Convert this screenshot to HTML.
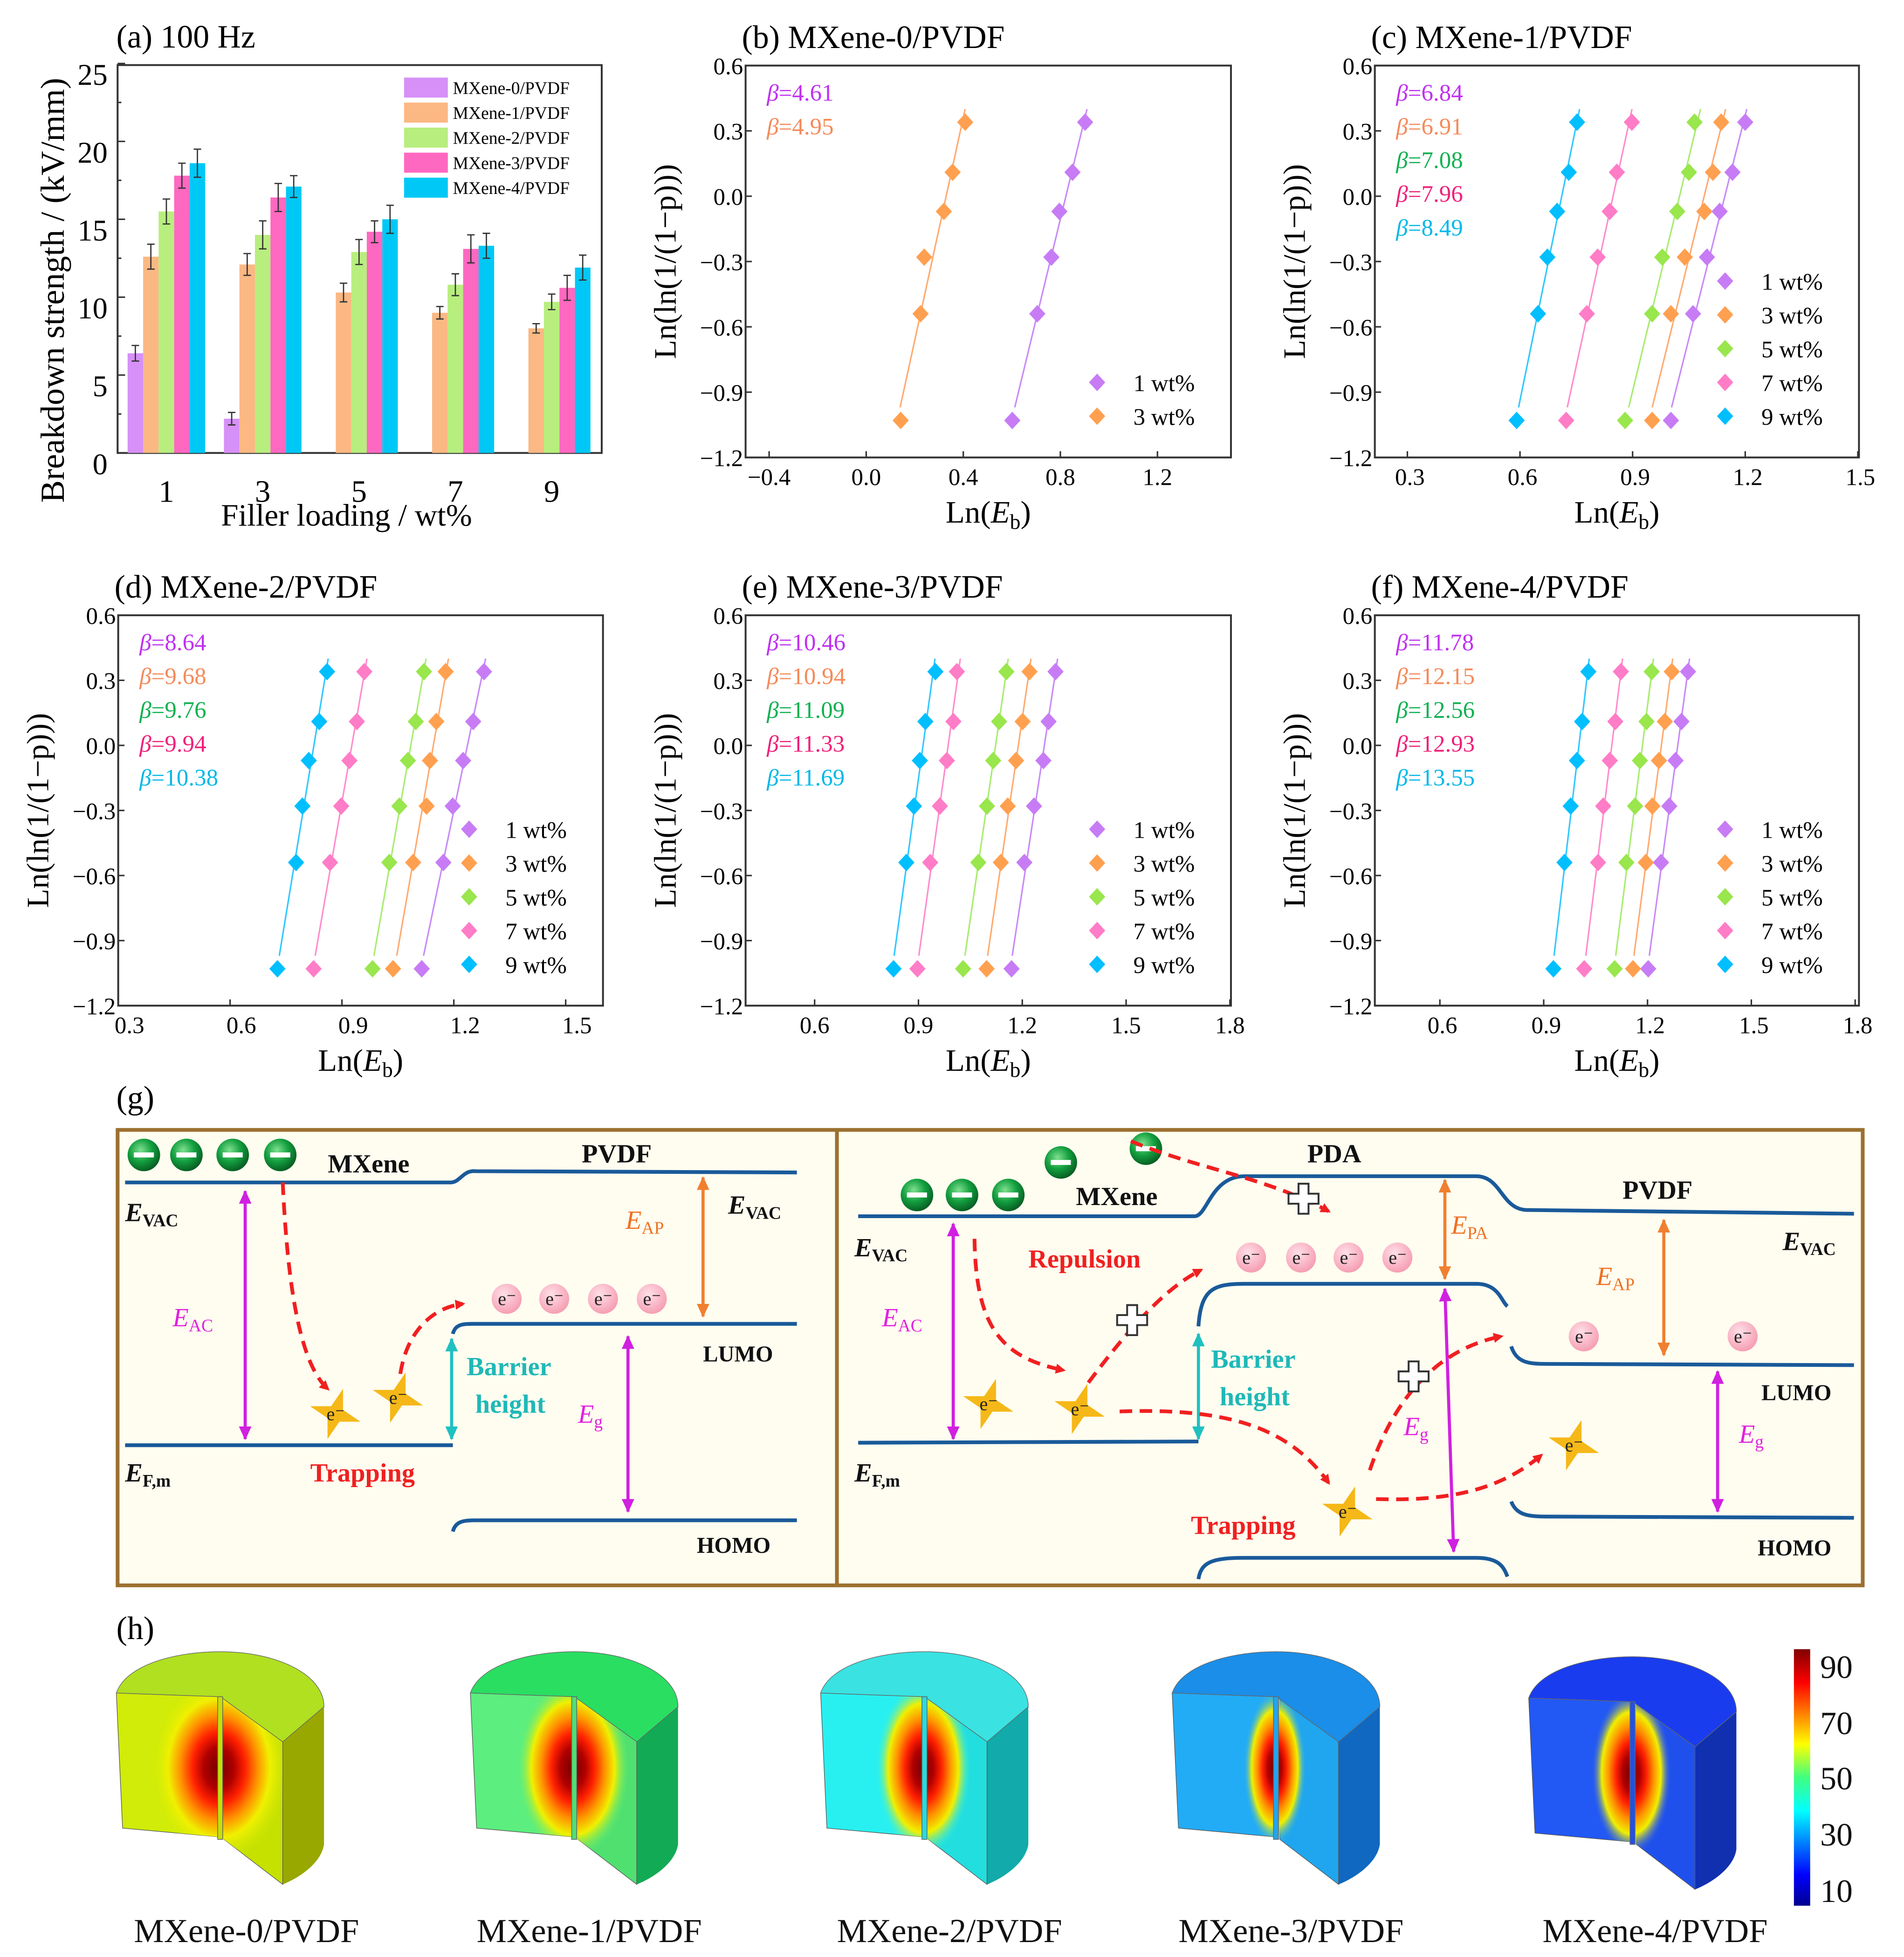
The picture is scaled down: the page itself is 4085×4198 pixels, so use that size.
<!DOCTYPE html>
<html><head><meta charset="utf-8"><style>
html,body{margin:0;padding:0;background:#fff;}
svg{display:block;font-family:"Liberation Serif",serif;}
</style></head><body>
<svg id="fig" xmlns="http://www.w3.org/2000/svg" width="4085" height="4198" viewBox="0 0 1522 1564" preserveAspectRatio="none">
<defs>
<radialGradient id="ball" cx="0.4" cy="0.35" r="0.7"><stop offset="0" stop-color="#7fe08f"/><stop offset="0.5" stop-color="#14a040"/><stop offset="1" stop-color="#05561f"/></radialGradient>
<radialGradient id="pinkball" cx="0.4" cy="0.35" r="0.7"><stop offset="0" stop-color="#ffe0e8"/><stop offset="1" stop-color="#f59ab0"/></radialGradient>
<linearGradient id="jet" x1="0" y1="1" x2="0" y2="0"><stop offset="0" stop-color="#00008f"/><stop offset="0.12" stop-color="#0000ff"/><stop offset="0.37" stop-color="#00ffff"/><stop offset="0.5" stop-color="#40ff80"/><stop offset="0.63" stop-color="#ffff00"/><stop offset="0.87" stop-color="#ff0000"/><stop offset="1" stop-color="#800000"/></linearGradient>
<marker id="arrR" markerWidth="8" markerHeight="8" refX="6" refY="4" orient="auto" markerUnits="userSpaceOnUse"><path d="M0,0 L8,4 L0,8 Z" fill="#f02020"/></marker>
<marker id="arrM" markerWidth="12" markerHeight="12" refX="10" refY="6" orient="auto-start-reverse" markerUnits="userSpaceOnUse"><path d="M0,1 L11,6 L0,11 Z" fill="#d020e0"/></marker>
<marker id="arrO" markerWidth="12" markerHeight="12" refX="10" refY="6" orient="auto-start-reverse" markerUnits="userSpaceOnUse"><path d="M0,1 L11,6 L0,11 Z" fill="#f08030"/></marker>
<marker id="arrC" markerWidth="12" markerHeight="12" refX="10" refY="6" orient="auto-start-reverse" markerUnits="userSpaceOnUse"><path d="M0,1 L11,6 L0,11 Z" fill="#20c0c0"/></marker>
</defs>
<g id="charts"></g>

<g font-weight="bold">
<text x="93" y="886" font-size="26" font-weight="normal">(g)</text>
<rect x="94" y="903" width="1395" height="364" fill="#fffdf0" stroke="#9c7030" stroke-width="3"/>
<line x1="669" y1="903" x2="669" y2="1267" stroke="#9c7030" stroke-width="3"/>
<g fill="none" stroke="#1a5a9a" stroke-width="3">
<path d="M100,945 L360,945 C368,945 370,935 380,936 L637,937"/>
<path d="M362,1066 C364,1058 370,1058 380,1058 L637,1058"/>
<path d="M100,1155 L362,1155"/>
<path d="M362,1224 C364,1216 370,1215 380,1215 L637,1215"/>
<path d="M686,972 L955,972 C965,972 968,940 995,940 L1180,940 C1200,940 1200,966 1220,967 L1482,970"/>
<path d="M958,1060 C960,1030 970,1026 995,1026 L1180,1026 C1198,1026 1200,1040 1205,1044"/>
<path d="M1208,1076 C1212,1088 1220,1090 1235,1090 L1482,1091"/>
<path d="M686,1153 L958,1152"/>
<path d="M958,1262 C960,1248 970,1245 995,1245 L1180,1245 C1198,1245 1202,1252 1205,1260"/>
<path d="M1208,1200 C1212,1210 1220,1212 1235,1212 L1482,1213"/>
</g>
<g>
<circle cx="115" cy="923" r="13" fill="url(#ball)"/><circle cx="149" cy="923" r="13" fill="url(#ball)"/><circle cx="186" cy="923" r="13" fill="url(#ball)"/><circle cx="224" cy="923" r="13" fill="url(#ball)"/>
<circle cx="733" cy="955" r="13" fill="url(#ball)"/><circle cx="769" cy="955" r="13" fill="url(#ball)"/><circle cx="806" cy="955" r="13" fill="url(#ball)"/><circle cx="848" cy="929" r="13" fill="url(#ball)"/><circle cx="916" cy="918" r="13" fill="url(#ball)"/>
<g fill="#fff"><rect x="107" y="921" width="16" height="4"/><rect x="141" y="921" width="16" height="4"/><rect x="178" y="921" width="16" height="4"/><rect x="216" y="921" width="16" height="4"/><rect x="725" y="953" width="16" height="4"/><rect x="761" y="953" width="16" height="4"/><rect x="798" y="953" width="16" height="4"/><rect x="840" y="927" width="16" height="4"/><rect x="908" y="916" width="16" height="4"/></g>
</g>
<g font-size="21" fill="#111">
<text x="262" y="937">MXene</text><text x="465" y="929">PVDF</text>
<text x="860" y="963">MXene</text><text x="1045" y="929">PDA</text><text x="1297" y="958">PVDF</text>
<text x="562" y="1088" font-size="18">LUMO</text><text x="557" y="1241" font-size="18">HOMO</text>
<text x="1408" y="1119" font-size="18">LUMO</text><text x="1405" y="1243" font-size="18">HOMO</text>
<text x="100" y="976" font-style="italic">E<tspan font-size="14" font-style="normal" dy="4">VAC</tspan></text>
<text x="582" y="970" font-style="italic">E<tspan font-size="14" font-style="normal" dy="4">VAC</tspan></text>
<text x="683" y="1004" font-style="italic">E<tspan font-size="14" font-style="normal" dy="4">VAC</tspan></text>
<text x="1425" y="999" font-style="italic">E<tspan font-size="14" font-style="normal" dy="4">VAC</tspan></text>
<text x="100" y="1184" font-style="italic">E<tspan font-size="14" font-style="normal" dy="4">F,m</tspan></text>
<text x="683" y="1184" font-style="italic">E<tspan font-size="14" font-style="normal" dy="4">F,m</tspan></text>
</g>
<g font-size="21" fill="#e020e0" font-weight="normal">
<text x="138" y="1060" font-style="italic">E<tspan font-size="14" font-style="normal" dy="4">AC</tspan></text>
<text x="705" y="1060" font-style="italic">E<tspan font-size="14" font-style="normal" dy="4">AC</tspan></text>
<text x="462" y="1137" font-style="italic">E<tspan font-size="14" font-style="normal" dy="4">g</tspan></text>
<text x="1122" y="1147" font-style="italic">E<tspan font-size="14" font-style="normal" dy="4">g</tspan></text>
<text x="1390" y="1153" font-style="italic">E<tspan font-size="14" font-style="normal" dy="4">g</tspan></text>
</g>
<g font-size="21" fill="#f07020" font-weight="normal">
<text x="500" y="982" font-style="italic">E<tspan font-size="14" font-style="normal" dy="4">AP</tspan></text>
<text x="1160" y="986" font-style="italic">E<tspan font-size="14" font-style="normal" dy="4">PA</tspan></text>
<text x="1276" y="1027" font-style="italic">E<tspan font-size="14" font-style="normal" dy="4">AP</tspan></text>
</g>
<g fill="#20b8b8" font-size="21"><text x="373" y="1099">Barrier</text><text x="380" y="1129">height</text><text x="968" y="1093">Barrier</text><text x="975" y="1123">height</text></g>
<g fill="#f02020" font-size="21"><text x="248" y="1184">Trapping</text><text x="952" y="1226">Trapping</text><text x="822" y="1013">Repulsion</text></g>
<g stroke-width="2.5" fill="none">
<line x1="196" y1="952" x2="196" y2="1150" stroke="#d020e0" marker-start="url(#arrM)" marker-end="url(#arrM)"/>
<line x1="502" y1="1068" x2="502" y2="1208" stroke="#d020e0" marker-start="url(#arrM)" marker-end="url(#arrM)"/>
<line x1="762" y1="978" x2="762" y2="1150" stroke="#d020e0" marker-start="url(#arrM)" marker-end="url(#arrM)"/>
<line x1="1155" y1="1030" x2="1162" y2="1240" stroke="#d020e0" marker-start="url(#arrM)" marker-end="url(#arrM)"/>
<line x1="1373" y1="1096" x2="1373" y2="1208" stroke="#d020e0" marker-start="url(#arrM)" marker-end="url(#arrM)"/>
<line x1="562" y1="941" x2="562" y2="1052" stroke="#f08030" marker-start="url(#arrO)" marker-end="url(#arrO)"/>
<line x1="1155" y1="943" x2="1155" y2="1022" stroke="#f08030" marker-start="url(#arrO)" marker-end="url(#arrO)"/>
<line x1="1330" y1="975" x2="1330" y2="1083" stroke="#f08030" marker-start="url(#arrO)" marker-end="url(#arrO)"/>
<line x1="361" y1="1070" x2="361" y2="1150" stroke="#20c0c0" marker-start="url(#arrC)" marker-end="url(#arrC)"/>
<line x1="958" y1="1066" x2="958" y2="1150" stroke="#20c0c0" marker-start="url(#arrC)" marker-end="url(#arrC)"/>
</g>
<g stroke="#f02020" stroke-width="3" stroke-dasharray="10,6" fill="none" marker-end="url(#arrR)">
<path d="M226,945 C230,1030 240,1090 262,1110"/>
<path d="M320,1098 C325,1065 345,1045 370,1042"/>
<path d="M904,912 C960,935 1010,940 1062,968"/>
<path d="M779,990 C780,1060 800,1085 850,1095"/>
<path d="M870,1105 C900,1065 930,1030 960,1015"/>
<path d="M895,1128 C980,1125 1030,1140 1062,1185"/>
<path d="M1095,1175 C1110,1130 1140,1080 1200,1068"/>
<path d="M1100,1198 C1160,1200 1200,1190 1232,1163"/>
</g>
<g id="plusses" fill="#fff" stroke="#333" stroke-width="1.5"></g>
<g id="pinke" font-size="15" font-weight="normal" fill="#222"></g>
<g id="stars" font-size="15" font-weight="normal" fill="#222"></g>
</g>

<g>
<text x="93" y="1310" font-size="26">(h)</text>
<g id="cyls"></g>
<rect x="1434" y="1318" width="13" height="205" fill="url(#jet)"/>
<g font-size="26" fill="#111">
<text x="1455" y="1341">90</text><text x="1455" y="1386">70</text><text x="1455" y="1430">50</text><text x="1455" y="1475">30</text><text x="1455" y="1520">10</text>
</g>
<g font-size="27" fill="#111" text-anchor="middle">
<text x="197" y="1552">MXene-0/PVDF</text><text x="471" y="1552">MXene-1/PVDF</text><text x="759" y="1552">MXene-2/PVDF</text><text x="1032" y="1552">MXene-3/PVDF</text><text x="1323" y="1552">MXene-4/PVDF</text>
</g>
</g>
</svg>
<script>
// ---------- Panel (a) data ----------
const barCategories = ["1","3","5","7","9"];
const barSeries = ["MXene-0/PVDF","MXene-1/PVDF","MXene-2/PVDF","MXene-3/PVDF","MXene-4/PVDF"];
const bar0 = [6.4, 2.2, null, null, null];
const bar1 = [12.6, 12.1, 10.3, 9.0, 8.0];
const bar2 = [15.5, 14.0, 12.9, 10.8, 9.7];
const bar3 = [17.8, 16.4, 14.2, 13.1, 10.6];
const bar4 = [18.6, 17.1, 15.0, 13.3, 11.9];
const err0 = [0.5, 0.4, 0, 0, 0];
const err1 = [0.8, 0.7, 0.6, 0.4, 0.3];
const err2 = [0.8, 0.9, 0.8, 0.7, 0.5];
const err3 = [0.8, 0.9, 0.7, 0.9, 0.8];
const err4 = [0.9, 0.7, 0.9, 0.8, 0.8];
const barYTicks = [0,5,10,15,20,25];

// ---------- Weibull data ----------
const weibullY = [-1.03,-0.54,-0.28,-0.07,0.11,0.34];
const wtLabels = ["1 wt%","3 wt%","5 wt%","7 wt%","9 wt%"];
const b_1wt = [0.602,0.705,0.763,0.796,0.850,0.902];
const b_3wt = [0.142,0.224,0.239,0.320,0.356,0.408];
const c_1wt = [1.002,1.061,1.098,1.132,1.166,1.200];
const c_3wt = [0.952,1.002,1.039,1.091,1.114,1.136];
const c_5wt = [0.880,0.952,0.979,1.019,1.050,1.065];
const c_7wt = [0.723,0.778,0.807,0.839,0.858,0.898];
const c_9wt = [0.591,0.648,0.673,0.699,0.730,0.752];
const d_1wt = [1.114,1.172,1.197,1.225,1.252,1.281];
const d_3wt = [1.037,1.091,1.127,1.136,1.153,1.178];
const d_5wt = [0.982,1.027,1.054,1.077,1.098,1.120];
const d_7wt = [0.824,0.868,0.898,0.920,0.940,0.960];
const d_9wt = [0.727,0.777,0.794,0.811,0.839,0.860];
const e_1wt = [1.169,1.206,1.234,1.261,1.276,1.296];
const e_3wt = [1.097,1.138,1.158,1.182,1.201,1.221];
const e_5wt = [1.029,1.073,1.098,1.116,1.133,1.154];
const e_7wt = [0.897,0.934,0.962,0.982,1.001,1.011];
const e_9wt = [0.828,0.865,0.887,0.904,0.920,0.949];
const f_1wt = [1.202,1.239,1.263,1.281,1.298,1.317];
const f_3wt = [1.158,1.195,1.214,1.233,1.250,1.270];
const f_5wt = [1.105,1.139,1.164,1.178,1.197,1.212];
const f_7wt = [1.017,1.057,1.072,1.091,1.107,1.123];
const f_9wt = [0.928,0.960,0.978,0.996,1.011,1.029];
const betaB = ["4.61","4.95"];
const betaC = ["6.84","6.91","7.08","7.96","8.49"];
const betaD = ["8.64","9.68","9.76","9.94","10.38"];
const betaE = ["10.46","10.94","11.09","11.33","11.69"];
const betaF = ["11.78","12.15","12.56","12.93","13.55"];
const weibullYTicks = [-1.2,-0.9,-0.6,-0.3,0.0,0.3,0.6];

const NS = "http://www.w3.org/2000/svg";
const root = document.getElementById('charts');
function mk(tag, attrs, parent){ const e=document.createElementNS(NS,tag); for(const k in attrs) e.setAttribute(k,attrs[k]); (parent||root).appendChild(e); return e; }
function txt(s, attrs, parent){ const e=mk('text',attrs,parent); e.textContent=s; return e; }
function tspan(parent, s, attrs){ const t=mk('tspan',attrs||{},parent); t.textContent=s; return t; }

const barFill = ["#d690f7","#fbb883","#b8ee7e","#ff68c0","#00c8f6"];
const markCol = ["#c77cf5","#ffa050","#99e64d","#ff7cc7","#00bfff"];
const lineCol = ["#c98af8","#ffaa70","#a8ec70","#ff8ccd","#30c8ff"];
const betaCol = ["#c030f0","#f58a5a","#10b050","#f0207a","#00b8e8"];

// ---------- Panel (a) ----------
(function(){
  const g = mk('g',{});
  
  
  const L=94,R=481,T=52,B=362;
  const y = v => B - v*12.45;
  const x = i => 133 + 77*i;
  const t = txt('(a) 100 Hz',{x:93,y:38,'font-size':26},g);
  
  
  const frame = mk('rect',{x:L,y:T,width:R-L,height:B-T,fill:'none',stroke:'#333','stroke-width':1.5},g);
  
  
  barYTicks.forEach(v=>{
    mk('line',{x1:L,x2:L+6,y1:y(v),y2:y(v),stroke:'#333','stroke-width':1.2},g);
    if(v!==25) mk('line',{x1:L,x2:L+3,y1:y(v+2.5),y2:y(v+2.5),stroke:'#333','stroke-width':1.2},g);
    const lb = txt(String(v),{x:L-8,y:y(v)+17,'font-size':24,'text-anchor':'end'},g);
    
    
  });
  const vals=[bar0,bar1,bar2,bar3,bar4], errs=[err0,err1,err2,err3,err4];
  const bw=12.4;
  barCategories.forEach((c,i)=>{
    const lb = txt(c,{x:x(i),y:401,'font-size':25,'text-anchor':'middle'},g);
    
    
    for(let s=0;s!==5;s++){
      const v=vals[s][i]; if(v==null) continue;
      const bx = x(i)-2.5*bw + s*bw;
      const r = mk('rect',{x:bx,y:y(v),width:bw,height:B-y(v),fill:barFill[s]},g);
      
      
      const e=errs[s][i], cx=bx+bw/2;
      mk('path',{d:`M${cx},${y(v+e)}V${y(v-e)}M${cx-3},${y(v+e)}h6M${cx-3},${y(v-e)}h6`,stroke:'#333','stroke-width':1,fill:'none'},g);
    }
  });
  const yt = txt('Breakdown strength / (kV/mm)',{x:0,y:0,'font-size':27,'text-anchor':'middle',transform:'translate(51,232) rotate(-90)'},g);
  
  
  const xt = txt('Filler loading / wt%',{x:277,y:420,'font-size':25,'text-anchor':'middle'},g);
  
  
  barSeries.forEach((s,k)=>{
    const ly=70+20*k;
    const sw = mk('rect',{x:323,y:ly-8,width:35,height:16,fill:barFill[k]},g);
    
    
    const lt = txt(s,{x:362,y:ly+5,'font-size':14},g);
    
    
  });
})();

// ---------- Weibull panels ----------
function weibull(cfg){
  const g = mk('g',{});
  
  
  const {L,R,T,B,xmin,xmax} = cfg;
  const x = v => L + (v-xmin)/(xmax-xmin)*(R-L);
  const y = v => B - (v+1.2)/1.8*(B-T);
  const tt = txt(cfg.title,{x:L-3,y:T-14,'font-size':26},g);
  
  
  const fr = mk('rect',{x:L,y:T,width:R-L,height:B-T,fill:'none',stroke:'#333','stroke-width':1.5},g);
  
  
  weibullYTicks.forEach(v=>{
    mk('line',{x1:L,x2:L+5,y1:y(v),y2:y(v),stroke:'#333','stroke-width':1.2},g);
    const lb = txt(v.toFixed(1).replace('-','\u2212'),{x:L-2,y:y(v)+7,'font-size':19,'text-anchor':'end'},g);
    
    
  });
  cfg.xticks.forEach(v=>{
    mk('line',{x1:x(v),x2:x(v),y1:B,y2:B-5,stroke:'#333','stroke-width':1.2},g);
    const lb = txt(v.toFixed(1).replace('-','\u2212'),{x:x(v)+cfg.lblOff,y:B+22,'font-size':19,'text-anchor':'middle'},g);
    
    
  });
  const yt = txt('Ln(ln(1/(1\u2212p)))',{x:0,y:0,'font-size':25,'text-anchor':'middle',transform:`translate(${L-56},${(T+B)/2}) rotate(-90)`},g);
  
  
  const xt = mk('text',{x:(L+R)/2,y:B+52,'font-size':25,'text-anchor':'middle'},g);
  tspan(xt,'Ln(');
  tspan(xt,'E',{'font-style':'italic'});
  tspan(xt,'b',{'font-size':17,dy:5});
  tspan(xt,')',{dy:-5});
  
  
  cfg.series.forEach((xs,k)=>{
    const ci = cfg.colorIdx[k];
    const n=xs.length; let sy=0,sx=0,syy=0,sxy=0;
    for(let i=0;i!==n;i++){sy+=weibullY[i];sx+=xs[i];syy+=weibullY[i]*weibullY[i];sxy+=weibullY[i]*xs[i];}
    const b=(n*sxy-sx*sy)/(n*syy-sy*sy), a=(sx-b*sy)/n;
    const y0=weibullY[0]+0.06, y1=weibullY[n-1]+0.06;
    const ln = mk('line',{x1:x(a+b*y0),y1:y(y0),x2:x(a+b*y1),y2:y(y1),stroke:lineCol[ci],'stroke-width':1.2},g);
    
    
    xs.forEach((v,i)=>{
      const px=x(v), py=y(weibullY[i]);
      const d = mk('path',{d:`M${px},${py-7}L${px+6.5},${py}L${px},${py+7}L${px-6.5},${py}Z`,fill:markCol[ci]},g);
      
      
    });
    const bl = mk('text',{x:L+17,y:T+28+27*k,'font-size':19,fill:betaCol[ci]},g);
    tspan(bl,'\u03b2',{'font-style':'italic'});
    tspan(bl,'='+cfg.betas[k]);
    
    
    const nLeg = cfg.series.length;
    const ly = B - 33 - 27*(nLeg-1-k);
    const lm = mk('path',{d:`M${R-107},${ly-7}L${R-100.5},${ly}L${R-107},${ly+7}L${R-113.5},${ly}Z`,fill:markCol[ci]},g);
    
    
    const lt = txt(cfg.legend[k],{x:R-78,y:ly+7,'font-size':19},g);
    
    
  });
}
weibull({id:'b',title:'(b) MXene-0/PVDF',L:596,R:984,T:52.4,B:365.6,xmin:-0.497,xmax:1.503,xticks:[-0.4,0,0.4,0.8,1.2],lblOff:0,series:[b_1wt,b_3wt],colorIdx:[0,1],betas:betaB,legend:wtLabels.slice(0,2)});
weibull({id:'c',title:'(c) MXene-1/PVDF',L:1099,R:1486,T:52.4,B:365.6,xmin:0.2133,xmax:1.503,xticks:[0.3,0.6,0.9,1.2,1.5],lblOff:2,series:[c_1wt,c_3wt,c_5wt,c_7wt,c_9wt],colorIdx:[0,1,2,3,4],betas:betaC,legend:wtLabels});
weibull({id:'d',title:'(d) MXene-2/PVDF',L:94.5,R:482,T:491.7,B:803.7,xmin:0.3,xmax:1.6,xticks:[0.3,0.6,0.9,1.2,1.5],lblOff:9,series:[d_1wt,d_3wt,d_5wt,d_7wt,d_9wt],colorIdx:[0,1,2,3,4],betas:betaD,legend:wtLabels});
weibull({id:'e',title:'(e) MXene-3/PVDF',L:596,R:984,T:491.7,B:803.7,xmin:0.4005,xmax:1.803,xticks:[0.6,0.9,1.2,1.5,1.8],lblOff:0,series:[e_1wt,e_3wt,e_5wt,e_7wt,e_9wt],colorIdx:[0,1,2,3,4],betas:betaE,legend:wtLabels});
weibull({id:'f',title:'(f) MXene-4/PVDF',L:1099,R:1486,T:491.7,B:803.7,xmin:0.412,xmax:1.811,xticks:[0.6,0.9,1.2,1.5,1.8],lblOff:2,series:[f_1wt,f_3wt,f_5wt,f_7wt,f_9wt],colorIdx:[0,1,2,3,4],betas:betaF,legend:wtLabels});

// ---------- diagram decorations ----------
(function(){
  const pe = document.getElementById('pinke');
  [[405,1038],[443,1038],[482,1038],[521,1038],[1000,1005],[1040,1005],[1078,1005],[1117,1005],[1266,1068],[1393,1068]].forEach(p=>{
    const c = mk('circle',{cx:p[0],cy:p[1],r:12,fill:'url(#pinkball)'},pe);
    
    
    txt('e\u207b',{x:p[0]-7,y:p[1]+5},pe);
  });
  const st = document.getElementById('stars');
  [[268,1130],[318,1117],[790,1122],[863,1126],[1077,1208],[1258,1155]].forEach(p=>{
    const cx=p[0], cy=p[1]; let d='';
    for(let i=0;i!==8;i++){const a=Math.PI/4*i-Math.PI/2+0.3, r=(i%2)?7:21; d+=(i?'L':'M')+(cx+r*Math.cos(a)).toFixed(1)+','+(cy+r*Math.sin(a)).toFixed(1);}
    const s = mk('path',{d:d+'Z',fill:'#f5b818'},st);
    
    
    txt('e\u207b',{x:cx-7,y:cy+5},st);
  });
  const pl = document.getElementById('plusses');
  [[1042,958],[905,1055],[1130,1100]].forEach(p=>{
    const x=p[0], y=p[1];
    const c = mk('path',{d:`M${x-4},${y-12}h8v8h8v8h-8v8h-8v-8h-8v-8h8Z`},pl);
    
    
  });
})();

// ---------- cylinders ----------
const cylX = [91,374,654,935,1220];
const cylY = [1318,1318,1318,1318,1322];
const cylTop = ["#b0e020","#2ade62","#3ae2e2","#1a8ee8","#1a3cef"];
const cylLeft = ["#d0ec08","#5cee7e","#28f0f0","#22acf6","#2258f4"];
const cylSlant = ["#c6e000","#50e070","#22dede","#20a6ee","#2050ec"];
const cylOuter = ["#98a800","#12aa55","#12aaaa","#1068c0","#1030b0"];
const hotRx = [55,45,38,25,32];
const hotRy = [75,72,70,62,66];
(function(){
  const root2 = document.getElementById('cyls');
  const defs = document.querySelector('defs');
  cylX.forEach((ox,k)=>{
    const g = mk('g',{transform:`translate(${ox},${cylY[k]})`},root2);
    
    
    const rg = mk('radialGradient',{id:'hot'+k,cx:'0.5',cy:'0.5',r:'0.5'},defs);
    [['0','#700000'],['0.22','#b00000'],['0.38','#ff2000'],['0.56','#ff9000'],['0.74','#f0f000'],['1',cylLeft[k]]].forEach(s=>mk('stop',{offset:s[0],'stop-color':s[1],'stop-opacity':s[0]=='1'?0:1},rg));
    const cp = mk('clipPath',{id:'cp'+k},defs);
    mk('path',{d:'M2,35 L85,38 L88,40 L135,74 L135,188 L88,152 L84,150 L7,143 Z'},cp);
    mk('path',{d:'M135,74 L168,46 L168,156 C166,170 150,182 135,188 Z',fill:cylOuter[k]},g);
    mk('path',{d:'M88,40 L135,74 L135,188 L88,152 Z',fill:cylSlant[k],stroke:'#555','stroke-width':0.5},g);
    mk('path',{d:'M2,35 L85,38 L84,150 L7,143 Z',fill:cylLeft[k],stroke:'#555','stroke-width':0.5},g);
    mk('ellipse',{cx:84,cy:95,rx:hotRx[k],ry:hotRy[k],fill:`url(#hot${k})`,'clip-path':`url(#cp${k})`},g);
    mk('path',{d:'M2,35 C10,12 50,2 85,2 C130,2 168,20 168,46 L135,74 L88,40 L85,38 Z',fill:cylTop[k],stroke:'#666','stroke-width':0.5},g);
    mk('rect',{x:83,y:38,width:4,height:114,fill:cylSlant[k],stroke:'#666','stroke-width':0.6},g);
  });
})();
</script>
</body></html>
